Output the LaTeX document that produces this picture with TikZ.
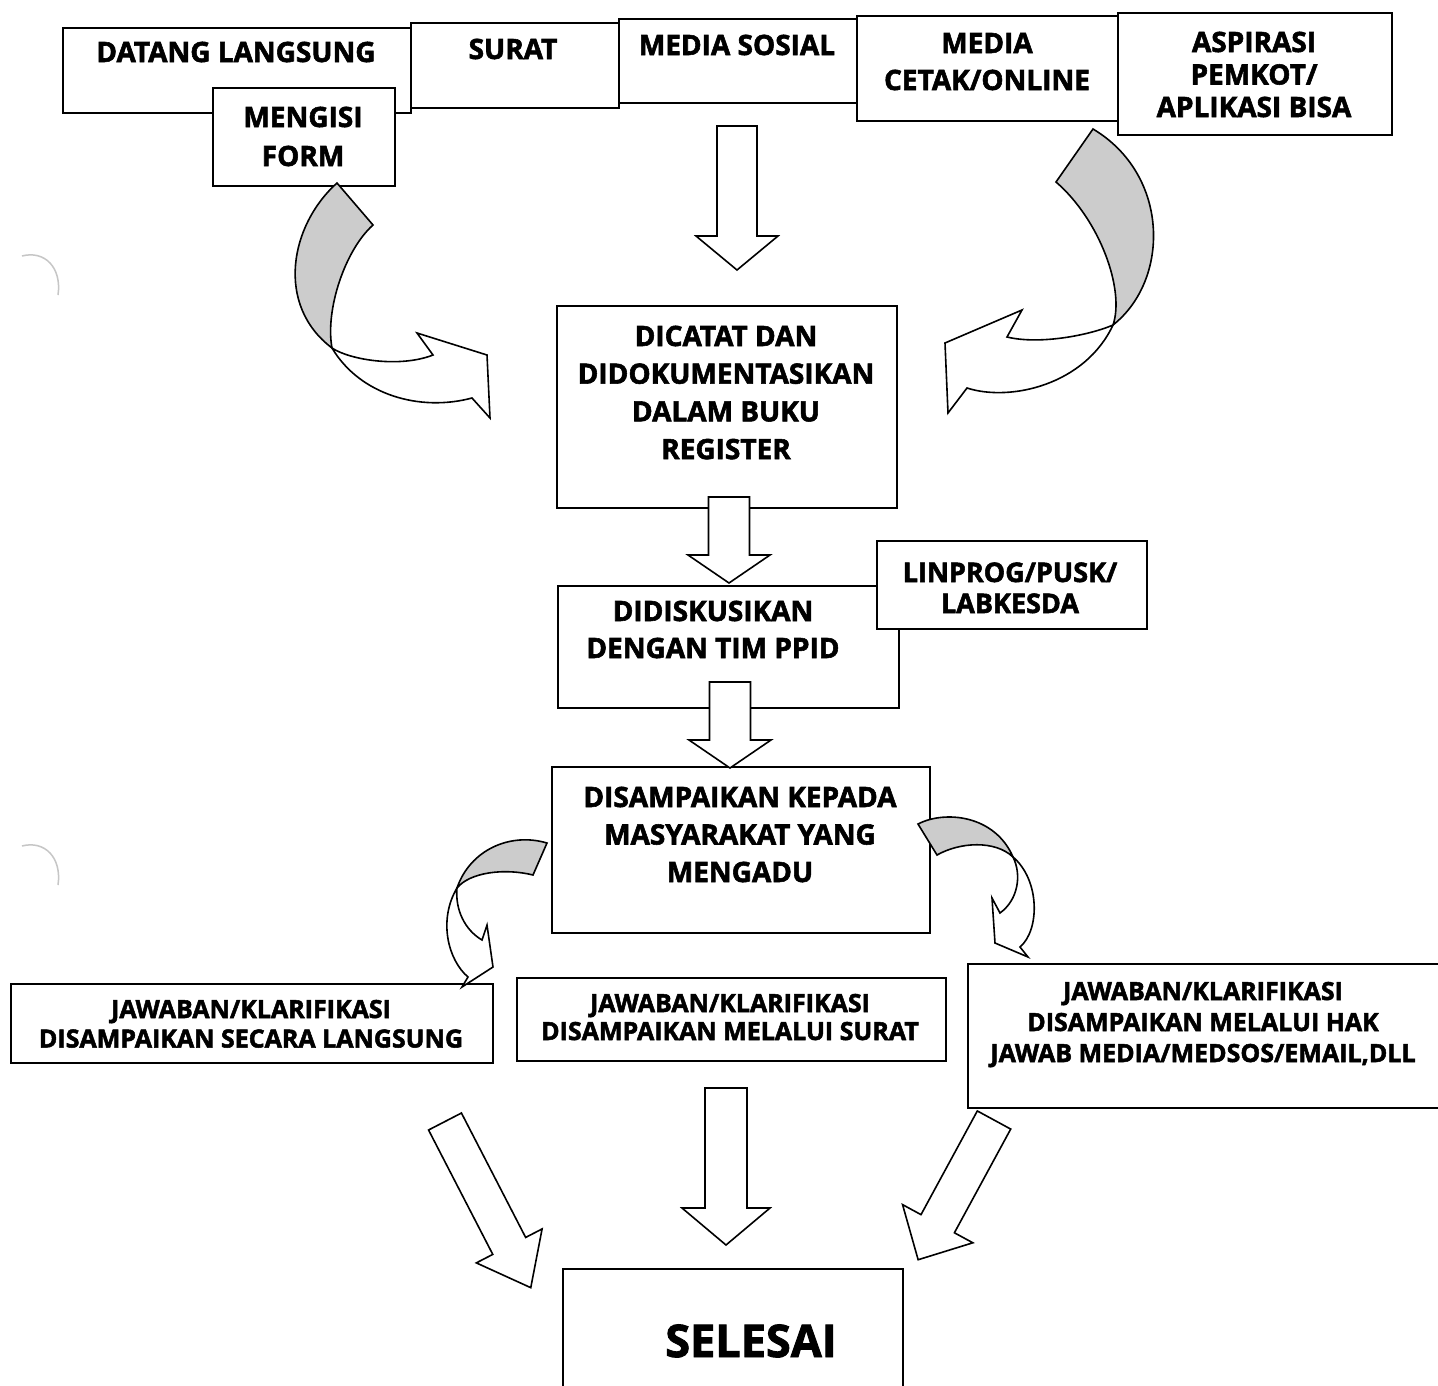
\documentclass[tikz,border=0pt]{standalone}
\usepackage{fontspec}
\setmainfont{Open Sans}[BoldFeatures={FakeBold=2}]
\definecolor{band}{gray}{0.80}
\newcommand{\tl}[1]{\begin{tabular}[t]{@{}c@{}}#1\end{tabular}}
\begin{document}
\begin{tikzpicture}[x=1pt,y=-1pt,
  box/.style={draw, line width=2pt, fill=white, inner sep=0pt, anchor=north west},
  txt/.style={anchor=base, inner sep=0pt, font=\bfseries},
  fa/.style={font=\fontsize{28}{37}\bfseries\selectfont},
  fb/.style={font=\fontsize{25}{29.5}\bfseries\selectfont},
  shapeline/.style={draw, line width=1.6pt, line join=miter},
  pics/barrow/.style n args={4}{code={
    \filldraw[shapeline, fill=white] (0,-#2) -- ({#1-#3},-#2) -- ({#1-#3},-#4) -- (#1,0)
      -- ({#1-#3},#4) -- ({#1-#3},#2) -- (0,#2) -- cycle;}}]
\useasboundingbox (0,0) rectangle (1438,1385);
\fill[white] (0,0) rectangle (1438,1385);

% punch-hole shadows
\draw[gray!45, line width=1.5pt] (22,256) .. controls (45,250) and (62,268) .. (58,295);
\draw[gray!45, line width=1.5pt] (22,846) .. controls (45,840) and (62,858) .. (58,885);

% top row
\node[box, minimum width=348pt, minimum height=85pt] (datang) at (62,27) {};
\node[box, minimum width=208pt, minimum height=85pt] (surat) at (410,22) {};
\node[box, minimum width=238pt, minimum height=84pt] (medsos) at (618,18) {};
\node[box, minimum width=261pt, minimum height=105pt] (cetak) at (856,15) {};
\node[box, minimum width=274pt, minimum height=122pt] (aspirasi) at (1117,12) {};
\node[box, minimum width=182pt, minimum height=98pt] (form) at (212,87) {};

\node[txt, fa] (tdatang) at (236,62) {DATANG LANGSUNG};
\node[txt, fa] (tsurat) at (513,59) {SURAT};
\node[txt, fa] (tmedsos) at (737,55) {MEDIA SOSIAL};
\node[txt, font=\fontsize{28}{37}\bfseries\selectfont] (tcetak) at (987,53) {\tl{MEDIA\\CETAK/ONLINE}};
\node[txt, font=\fontsize{28}{32.5}\bfseries\selectfont] (taspirasi) at (1254,52) {\tl{ASPIRASI\\PEMKOT/\\APLIKASI BISA}};
\node[txt, font=\fontsize{28}{39}\bfseries\selectfont] (tform) at (303,127) {\tl{MENGISI\\FORM}};

% middle
\node[box, minimum width=340pt, minimum height=202pt] (dicatat) at (556,305) {};
\node[txt, font=\fontsize{28}{37.7}\bfseries\selectfont] (tdicatat) at (726,346) {\tl{DICATAT DAN\\DIDOKUMENTASIKAN\\DALAM BUKU\\REGISTER}};

\node[box, minimum width=341pt, minimum height=122pt] (diskusi) at (557,585) {};
\node[box, minimum width=270pt, minimum height=88pt] (linprog) at (876,540) {};
\node[txt, fa] (tdiskusi) at (713,621) {\tl{DIDISKUSIKAN\\DENGAN TIM PPID}};
\node[txt, font=\fontsize{27}{31}\bfseries\selectfont] (tlinprog) at (1010,582) {\tl{LINPROG/PUSK/\\LABKESDA}};

\node[box, minimum width=378pt, minimum height=166pt] (sampai) at (551,766) {};
\node[txt, font=\fontsize{28}{37.5}\bfseries\selectfont] (tsampai) at (740,807) {\tl{DISAMPAIKAN KEPADA\\MASYARAKAT YANG\\MENGADU}};

% bottom row
\node[box, minimum width=482pt, minimum height=79pt] (jleft) at (10,983) {};
\node[box, minimum width=429pt, minimum height=83pt] (jmid) at (516,977) {};
\node[box, minimum width=483pt, minimum height=144pt] (jright) at (967,963) {};
\node[txt, fb] (tjleft) at (251,1018) {\tl{JAWABAN/KLARIFIKASI\\DISAMPAIKAN SECARA LANGSUNG}};
\node[txt, font=\fontsize{25}{28}\bfseries\selectfont] (tjmid) at (730,1012) {\tl{JAWABAN/KLARIFIKASI\\DISAMPAIKAN MELALUI SURAT}};
\node[txt, font=\fontsize{25}{31}\bfseries\selectfont] (tjright) at (1203,1000) {\tl{JAWABAN/KLARIFIKASI\\DISAMPAIKAN MELALUI HAK\\JAWAB MEDIA/MEDSOS/EMAIL,DLL}};

\node[box, minimum width=340pt, minimum height=132pt] (selesai) at (562,1268) {};
\node[txt, font=\fontsize{45}{50}\bfseries\selectfont] (tselesai) at (751,1357) {SELESAI};

% straight block arrows
\coordinate (a1) at (737,126);
\coordinate (a2) at (729,497);
\coordinate (a3) at (730,682);
\coordinate (a4) at (726,1088);
\coordinate (a5) at (445,1121.5);
\coordinate (a6) at (994,1120);
\pic[rotate=-90] at (a1) {barrow={144}{20}{34}{41}};
\pic[rotate=-90] at (a2) {barrow={86}{20.5}{28}{41}};
\pic[rotate=-90] at (a3) {barrow={86}{20.5}{28}{41}};
\pic[rotate=-90] at (a4) {barrow={157}{21}{37}{44}};
\pic[rotate=-62.7] at (a5) {barrow={187}{18.5}{47}{37}};
\pic[rotate=-118.5] at (a6) {barrow={159}{19}{41}{40}};

% curved arrows
% upper left
\filldraw[shapeline, fill=band] (337,183) .. controls (290,225) and (275,305) .. (332,348)
  .. controls (325,310) and (345,250) .. (373,225) -- cycle;
\filldraw[shapeline, fill=white] (332,348) .. controls (350,360) and (400,368) .. (433,355)
  -- (417,333) -- (487,355) -- (490,418) -- (472,398)
  .. controls (420,412) and (360,395) .. (332,348) -- cycle;
% upper right
\filldraw[shapeline, fill=band] (1093,129) .. controls (1170,175) and (1170,280) .. (1113,325)
  .. controls (1125,290) and (1100,220) .. (1056,182) -- cycle;
\filldraw[shapeline, fill=white] (1113,325) .. controls (1090,335) and (1040,345) .. (1007,337)
  -- (1022,310) -- (945,343) -- (948,413) -- (967,388)
  .. controls (1010,402) and (1085,385) .. (1113,325) -- cycle;
% lower left
\filldraw[shapeline, fill=band] (547,843) .. controls (510,832) and (470,850) .. (457,888)
  .. controls (470,872) and (505,868) .. (533,875) -- cycle;
\filldraw[shapeline, fill=white] (457,888) .. controls (455,910) and (465,930) .. (482,940)
  -- (487,925) -- (493,967) -- (462,987) -- (468,977)
  .. controls (448,960) and (438,920) .. (457,888) -- cycle;
% lower right
\filldraw[shapeline, fill=band] (918,824) .. controls (945,810) and (995,815) .. (1013,857)
  .. controls (995,840) and (960,842) .. (937,855) -- cycle;
\filldraw[shapeline, fill=white] (1013,857) .. controls (1022,875) and (1018,900) .. (1000,913)
  -- (992,898) -- (995,943) -- (1028,957) -- (1020,947)
  .. controls (1040,930) and (1040,880) .. (1013,857) -- cycle;
\end{tikzpicture}
\end{document}
